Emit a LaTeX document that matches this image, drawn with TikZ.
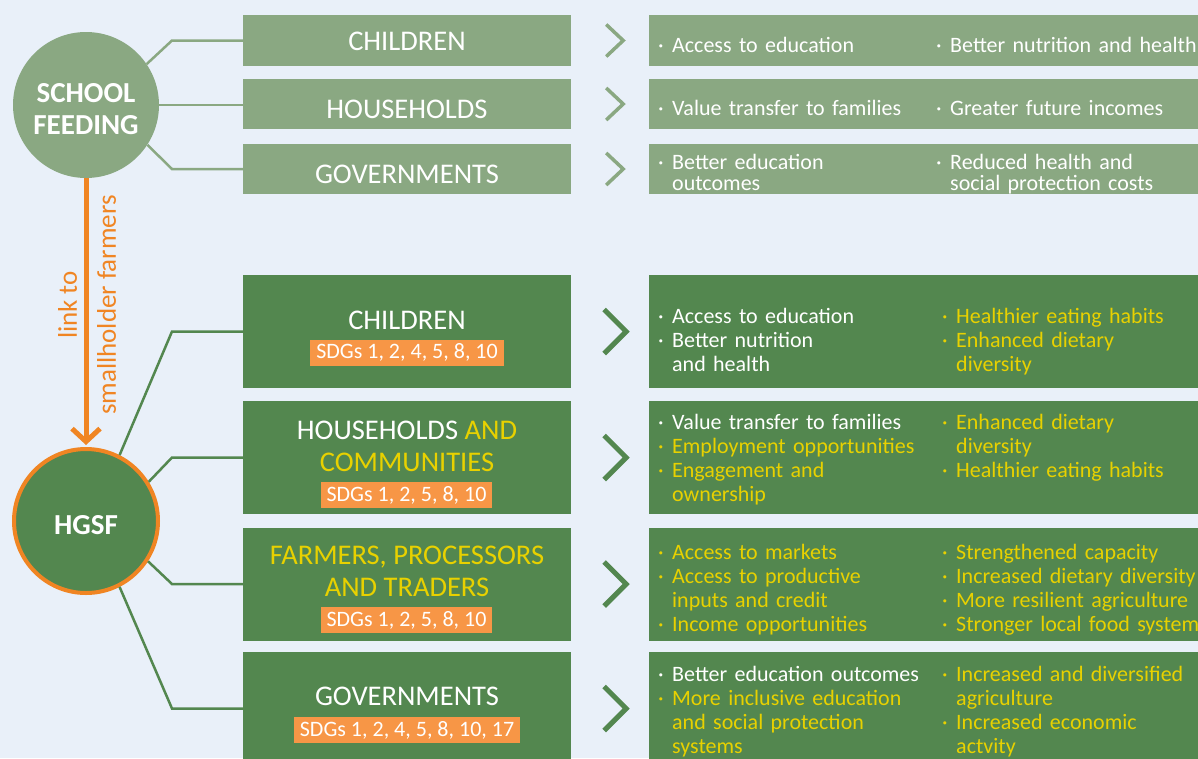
\documentclass[tikz,border=0pt]{standalone}
\usepackage{fontspec}
\setmainfont{Carlito}
\usetikzlibrary{arrows.meta}

\definecolor{bgblue}{HTML}{E9F0F9}
\definecolor{sfgreen}{HTML}{8AA882}
\definecolor{hggreen}{HTML}{53874F}
\definecolor{sdgorange}{HTML}{F79646}
\definecolor{hgorange}{HTML}{F08523}
\definecolor{hgyellow}{HTML}{E8D100}

\newcommand{\bul}{\makebox[14pt][l]{·}}
\newcommand{\ind}{\hspace*{14pt}}
\newcommand{\yl}[1]{\textcolor{hgyellow}{#1}}

\begin{document}
\begin{tikzpicture}[x=1pt, y=-1pt,
    sfbox/.style={fill=sfgreen, inner sep=0pt, minimum height=50.5pt},
    hgbox/.style={fill=hggreen, inner sep=0pt, minimum height=113pt},
    lbox/.style={minimum width=328pt},
    rbox/.style={minimum width=561pt},
    circtext/.style={text=white, align=center, inner sep=0pt, font=\bfseries\fontsize{29}{32}\selectfont},
    boxtitle/.style={anchor=base, text=white, inner sep=0pt, font=\fontsize{28.5}{32}\selectfont},
    bullets/.style={anchor=base west, inner sep=0pt, text=white, text width=300pt, align=left, font=\fontsize{22}{24}\selectfont},
    sdg/.style={fill=sdgorange, text=white, inner sep=0pt, minimum height=26pt, font=\fontsize{22}{24}\selectfont},
    sfline/.style={draw=sfgreen, line width=2.5pt},
    hgline/.style={draw=hggreen, line width=2.5pt},
    sfchev/.style={draw=sfgreen, line width=3.5pt},
    hgchev/.style={draw=hggreen, line width=5pt}]

    \useasboundingbox (0,0) rectangle (1198,758);
    \fill[bgblue] (0,0) rectangle (1198,758);

    % circles
    \node[circle, fill=sfgreen, minimum size=146pt, inner sep=0pt] (sf) at (86,105) {};
    \node[circle, fill=hggreen, draw=hgorange, line width=4pt, minimum size=144pt, inner sep=0pt] (hgsf) at (86,521) {};
    \node[circtext] (sf-t) at (86,109) {SCHOOL\\FEEDING};
    \node[circtext] (hgsf-t) at (86,525.5) {HGSF};

    % school feeding boxes
    \node[sfbox, lbox] (sf-child) at (407,40.5) {};
    \node[sfbox, lbox] (sf-house) at (407,104) {};
    \node[sfbox, lbox] (sf-gov) at (407,169) {};
    \node[sfbox, rbox] (sf-child-r) at (929.5,40.5) {};
    \node[sfbox, rbox] (sf-house-r) at (929.5,104) {};
    \node[sfbox, rbox] (sf-gov-r) at (929.5,169) {};
    \node[boxtitle] (sf-child-t) at (407,50) {CHILDREN};
    \node[boxtitle] (sf-house-t) at (407,118) {HOUSEHOLDS};
    \node[boxtitle] (sf-gov-t) at (407,183) {GOVERNMENTS};

    % hgsf boxes
    \node[hgbox, lbox] (hg-child) at (407,331.5) {};
    \node[hgbox, lbox] (hg-house) at (407,457.5) {};
    \node[hgbox, lbox] (hg-farm) at (407,584) {};
    \node[hgbox, lbox] (hg-gov) at (407,708.5) {};
    \node[hgbox, rbox] (hg-child-r) at (929.5,331.5) {};
    \node[hgbox, rbox] (hg-house-r) at (929.5,457.5) {};
    \node[hgbox, rbox] (hg-farm-r) at (929.5,584) {};
    \node[hgbox, rbox] (hg-gov-r) at (929.5,708.5) {};
    \node[boxtitle] (hg-child-t) at (407,329) {CHILDREN};
    \node[boxtitle] (hg-house-t) at (407,439.5) {HOUSEHOLDS \yl{AND}};
    \node[boxtitle] (hg-house-t2) at (407,471.5) {\yl{COMMUNITIES}};
    \node[boxtitle] (hg-farm-t) at (407,564) {\yl{FARMERS, PROCESSORS}};
    \node[boxtitle] (hg-farm-t2) at (407,596) {\yl{AND TRADERS}};
    \node[boxtitle] (hg-gov-t) at (407,705) {GOVERNMENTS};
    \node[sdg, minimum width=194pt] (hg-child-s) at (407,352.5) {SDGs 1, 2, 4, 5, 8, 10};
    \node[sdg, minimum width=171pt] (hg-house-s) at (406.5,495) {SDGs 1, 2, 5, 8, 10};
    \node[sdg, minimum width=171pt] (hg-farm-s) at (406.5,620) {SDGs 1, 2, 5, 8, 10};
    \node[sdg, minimum width=226pt] (hg-gov-s) at (407,730) {SDGs 1, 2, 4, 5, 8, 10, 17};

    % outcomes, school feeding
    \node[bullets] (sf-child-a) at (658,52) {\bul Access to education};
    \node[bullets] (sf-child-b) at (936,52) {\bul Better nutrition and health};
    \node[bullets] (sf-house-a) at (658,115) {\bul Value transfer to families};
    \node[bullets] (sf-house-b) at (936,115) {\bul Greater future incomes};
    \node[bullets, font=\fontsize{22}{21}\selectfont] (sf-gov-a) at (658,169) {\bul Better education\\\ind outcomes};
    \node[bullets, font=\fontsize{22}{21}\selectfont] (sf-gov-b) at (936,169) {\bul Reduced health and\\\ind social protection costs};

    % outcomes, hgsf
    \node[bullets] (hg-child-a) at (658,323) {\bul Access to education\\\bul Better nutrition\\\ind and health};
    \node[bullets, text=hgyellow] (hg-child-b) at (942,323) {\bul Healthier eating habits\\\bul Enhanced dietary\\\ind diversity};
    \node[bullets] (hg-house-a) at (658,429) {\bul Value transfer to families\\\yl{\bul Employment opportunities}\\\yl{\bul Engagement and}\\\yl{\ind ownership}};
    \node[bullets, text=hgyellow] (hg-house-b) at (942,429) {\bul Enhanced dietary\\\ind diversity\\\bul Healthier eating habits};
    \node[bullets, text=hgyellow] (hg-farm-a) at (658,559) {\bul Access to markets\\\bul Access to productive\\\ind inputs and credit\\\bul Income opportunities};
    \node[bullets, text=hgyellow] (hg-farm-b) at (942,559) {\bul Strengthened capacity\\\bul Increased dietary diversity\\\bul More resilient agriculture\\\bul Stronger local food systems};
    \node[bullets] (hg-gov-a) at (658,681) {\bul Better education outcomes\\\yl{\bul More inclusive education}\\\yl{\ind and social protection}\\\yl{\ind systems}};
    \node[bullets, text=hgyellow] (hg-gov-b) at (942,681) {\bul Increased and diversified\\\ind agriculture\\\bul Increased economic\\\ind actvity};

    % link
    \draw[hgorange, line width=5pt, -{Straight Barb[length=13pt, width=28pt]}, shorten >=2pt] (sf) -- (hgsf);
    \node[rotate=90, align=center, text=hgorange, font=\fontsize{27}{39}\selectfont] (link) at (87,305) {link to\\smallholder farmers};

    % paths
    \coordinate (bend) at (172,0);
    \draw[sfline] (sf.34) -- (sf-child.west -| bend) -- (sf-child.west);
    \draw[sfline] (sf.east) -- (sf.east -| sf-house.west);
    \draw[sfline] (sf.-33) -- (sf-gov.west -| bend) -- (sf-gov.west);
    \draw[hgline] (hgsf.63) -- (hg-child.west -| bend) -- (hg-child.west);
    \draw[hgline] (hgsf.32) -- (hg-house.west -| bend) -- (hg-house.west);
    \draw[hgline] (hgsf.-33) -- (hg-farm.west -| bend) -- (hg-farm.west);
    \draw[hgline] (hgsf.-63) -- (hg-gov.west -| bend) -- (hg-gov.west);

    % chevrons
    \foreach \b in {sf-child,sf-house,sf-gov}
        \draw[sfchev] ([xshift=35pt,yshift=16pt]\b.east) -- ++(17,16) -- ++(-17,16);
    \foreach \b in {hg-child,hg-house,hg-farm,hg-gov}
        \draw[hgchev] ([xshift=33pt,yshift=22pt]\b.east) -- ++(22,22) -- ++(-22,22);
\end{tikzpicture}
\end{document}
